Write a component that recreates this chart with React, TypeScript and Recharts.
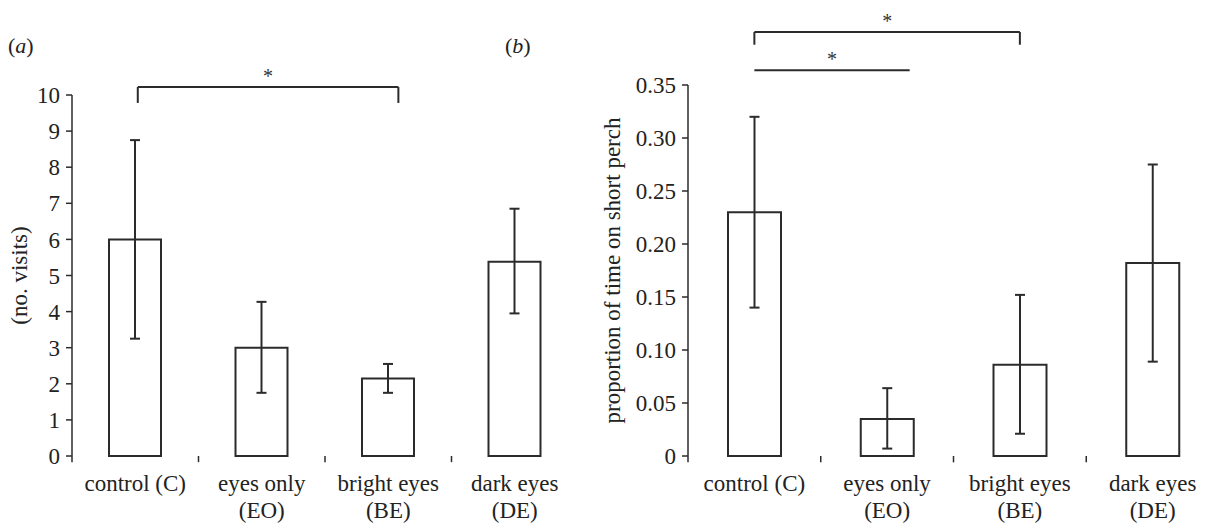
import { BarChart, Bar, XAxis, YAxis, ErrorBar, ReferenceLine, Label } from 'recharts';

// groups shared by both panels
const categories = ['C', 'EO', 'BE', 'DE'];
const categoryLines = [
  ['control (C)'],
  ['eyes only', '(EO)'],
  ['bright eyes', '(BE)'],
  ['dark eyes', '(DE)'],
];
// group boundaries on the 0..4 helper axis that carry a tick
const groupEdges = [0, 1, 2, 3];

// (a) number of visits, mean with error range
const visits = [6.0, 3.0, 2.15, 5.38];
const visitsLow = [3.25, 1.75, 1.75, 3.95];
const visitsHigh = [8.75, 4.27, 2.55, 6.85];
const visitTicks = [0, 1, 2, 3, 4, 5, 6, 7, 8, 9, 10];

// (b) proportion of time on short perch
const perch = [0.23, 0.035, 0.086, 0.182];
const perchLow = [0.14, 0.007, 0.021, 0.089];
const perchHigh = [0.32, 0.064, 0.152, 0.275];
const perchTicks = [0, 0.05, 0.1, 0.15, 0.2, 0.25, 0.3, 0.35];

// significance brackets, x in group units (0..4), y in data units
const bracketsA = [{ from: 0.52, to: 2.58, y: 10.22, drop: 0.44 }];
const bracketsB = [
  { from: 0.5, to: 2.5, y: 0.4, drop: 0.012 },
  { from: 0.5, to: 1.67, y: 0.364, drop: 0 },
];

const INK = '#2b2b2b';
const FONT = '"Liberation Serif", "Times New Roman", serif';

// pos = group centre on the 0..4 helper axis
const dataA = categories.map((cat, i) => ({
  cat,
  pos: i + 0.5,
  value: visits[i],
  err: [visits[i] - visitsLow[i], visitsHigh[i] - visits[i]],
}));

const dataB = categories.map((cat, i) => ({
  cat,
  pos: i + 0.5,
  value: perch[i],
  err: [perch[i] - perchLow[i], perchHigh[i] - perch[i]],
}));

function CategoryTick(props: any) {
  const { x, y, payload } = props;
  const lines = categoryLines[categories.indexOf(payload.value)] || [];
  return (
    <g>
      {lines.map((line, i) => (
        <text
          key={i}
          x={x}
          y={y + 35 + i * 27}
          textAnchor="middle"
          fontSize={23}
          fill="#222"
        >
          {line}
        </text>
      ))}
    </g>
  );
}

type Bracket = { from: number; to: number; y: number; drop: number };

function renderBrackets(list: Bracket[]) {
  const out: any[] = [];
  list.forEach((b, i) => {
    out.push(
      <ReferenceLine
        key={`h${i}`}
        xAxisId="n"
        segment={[
          { x: b.from, y: b.y },
          { x: b.to, y: b.y },
        ]}
        ifOverflow="visible"
        stroke={INK}
        strokeWidth={2}
        label={{ value: '*', position: 'top', offset: 4, fontSize: 20, fill: '#333' }}
      />
    );
    if (b.drop > 0) {
      [b.from, b.to].forEach((x, j) => {
        out.push(
          <ReferenceLine
            key={`v${i}-${j}`}
            xAxisId="n"
            segment={[
              { x, y: b.y },
              { x, y: b.y - b.drop },
            ]}
            ifOverflow="visible"
            stroke={INK}
            strokeWidth={2}
          />
        );
      });
    }
  });
  return out;
}

// small downward ticks between the groups
function renderEdgeTicks(drop: number) {
  return groupEdges.map((x) => (
    <ReferenceLine
      key={`e${x}`}
      xAxisId="n"
      segment={[
        { x, y: 0 },
        { x, y: -drop },
      ]}
      ifOverflow="visible"
      stroke={INK}
      strokeWidth={1.5}
    />
  ));
}

function Panel({
  data,
  width,
  height,
  margin,
  yWidth,
  domain,
  ticks,
  fmt,
  yLabel,
  labelOffset,
  barSize,
  brackets,
  tickDrop,
}: any) {
  return (
    <BarChart width={width} height={height} data={data} margin={margin}>
      <XAxis
        xAxisId="n"
        dataKey="pos"
        type="number"
        domain={[0, 4]}
        allowDataOverflow
        tick={false}
        tickLine={false}
        height={0}
        axisLine={{ stroke: INK, strokeWidth: 1.5 }}
      />
      <XAxis
        xAxisId="c"
        dataKey="cat"
        type="category"
        height={60}
        interval={0}
        tickSize={0}
        tickMargin={0}
        tickLine={false}
        axisLine={false}
        tick={<CategoryTick />}
      />
      <YAxis
        width={yWidth}
        domain={domain}
        ticks={ticks}
        interval={0}
        tickFormatter={fmt}
        tickSize={6}
        tickMargin={6}
        tick={{ fontSize: 23, fill: '#222' }}
        axisLine={{ stroke: INK, strokeWidth: 1.5 }}
        tickLine={{ stroke: INK, strokeWidth: 1.5 }}
      >
        <Label
          value={yLabel}
          angle={-90}
          position="insideLeft"
          offset={labelOffset}
          style={{ textAnchor: 'middle', fontSize: 23, fill: '#222' }}
        />
      </YAxis>
      <Bar
        xAxisId="c"
        dataKey="value"
        barSize={barSize}
        fill="#fff"
        stroke={INK}
        strokeWidth={2}
        isAnimationActive={false}
      >
        <ErrorBar dataKey="err" direction="y" width={5} stroke={INK} strokeWidth={2} />
      </Bar>
      {renderEdgeTicks(tickDrop)}
      {renderBrackets(brackets)}
    </BarChart>
  );
}

export default function App() {
  return (
    <div
      style={{
        position: 'absolute',
        left: 0,
        top: 0,
        width: 1220,
        height: 524,
        background: '#fff',
        fontFamily: FONT,
        color: '#222',
      }}
    >
      <div style={{ position: 'absolute', left: 8, top: 33, fontSize: 22 }}>
        (<i>a</i>)
      </div>
      <div style={{ position: 'absolute', left: 505, top: 33, fontSize: 22 }}>
        (<i>b</i>)
      </div>
      <div style={{ position: 'absolute', left: 0, top: 0 }}>
        <Panel
          data={dataA}
          width={600}
          height={524}
          margin={{ top: 95, right: 22, left: 0, bottom: 8 }}
          yWidth={72}
          domain={[0, 10]}
          ticks={visitTicks}
          fmt={(v: number) => String(v)}
          yLabel="(no. visits)"
          labelOffset={19}
          barSize={52}
          brackets={bracketsA}
          tickDrop={0.17}
        />
      </div>
      <div style={{ position: 'absolute', left: 600, top: 0 }}>
        <Panel
          data={dataB}
          width={620}
          height={524}
          margin={{ top: 85, right: 1, left: 0, bottom: 8 }}
          yWidth={88}
          domain={[0, 0.35]}
          ticks={perchTicks}
          fmt={(v: number) => (v === 0 ? '0' : v.toFixed(2))}
          yLabel="proportion of time on short perch"
          labelOffset={12}
          barSize={53}
          brackets={bracketsB}
          tickDrop={0.006}
        />
      </div>
    </div>
  );
}
